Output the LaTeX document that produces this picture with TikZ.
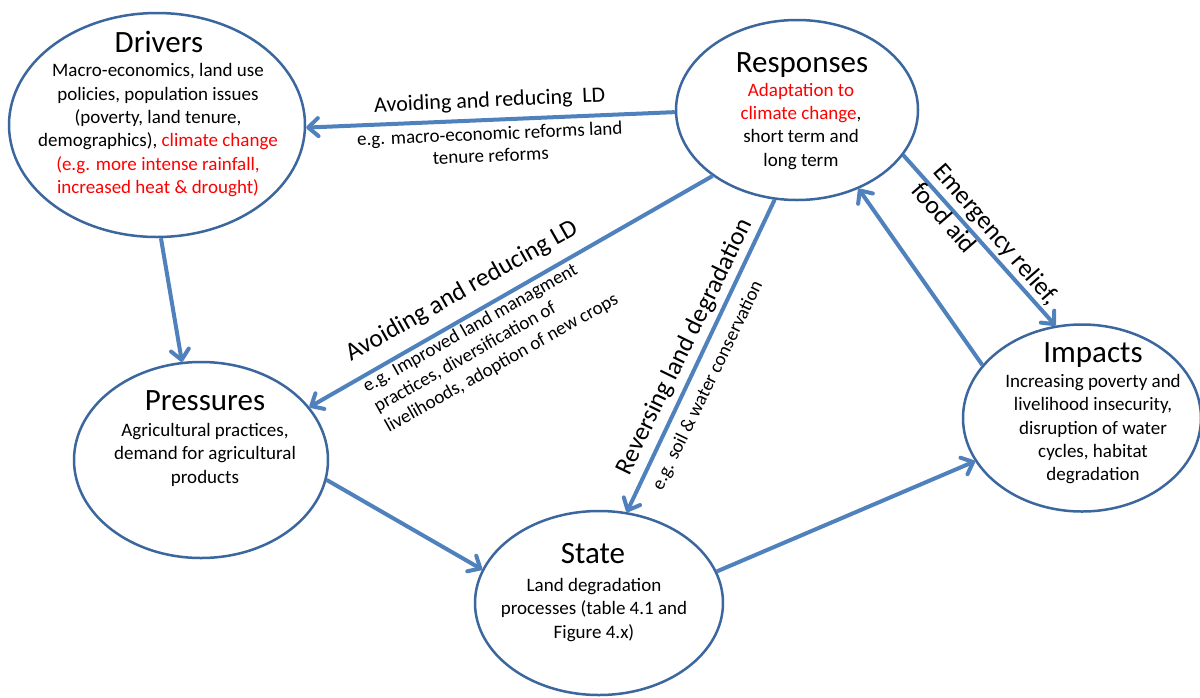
\documentclass[tikz,border=0pt]{standalone}
\usepackage{fontspec}
\setmainfont{Carlito}
\usetikzlibrary{arrows.meta,shapes.geometric}
\definecolor{rimblue}{HTML}{3B679E}
\definecolor{linkblue}{HTML}{4F81BD}
\begin{document}
\begin{tikzpicture}[x=1pt,y=-1pt,
  ell/.style={ellipse, draw=rimblue, line width=2.5pt, fill=white, inner sep=0pt},
  link/.style={draw=linkblue, line width=4pt, -{Straight Barb[length=10pt,width=18pt,round]}},
  ttl/.style={font=\fontsize{31}{36}\selectfont, anchor=base, inner sep=0pt},
  body/.style={font=\fontsize{19}{23.3}\selectfont, align=center, anchor=north, inner sep=0pt},
  lbl/.style={font=\fontsize{25.5}{29}\selectfont, inner sep=0pt},
  toplbl/.style={font=\fontsize{22}{26}\selectfont, inner sep=0pt},
  sub/.style={font=\fontsize{19}{22}\selectfont, inner sep=0pt},
]
\clip (0,0) rectangle (1200,697);
\fill[white] (0,0) rectangle (1200,697);

% the five stages
\node[ell, minimum width=296pt, minimum height=224pt] (drv)   at (157,125)  {};
\node[ell, minimum width=242pt, minimum height=180pt] (resp)  at (797,110)  {};
\node[ell, minimum width=254pt, minimum height=196pt] (press) at (201,460)  {};
\node[ell, minimum width=248pt, minimum height=184pt] (state) at (599,603)  {};
\node[ell, minimum width=238pt, minimum height=187pt] (imp)   at (1082,418) {};

% titles
\node[ttl] (drvT)   at (159,52)  {Drivers};
\node[ttl] (respT)  at (802,72)  {Responses};
\node[ttl] (pressT) at (205,410) {Pressures};
\node[ttl] (stateT) at (593,563) {State};
\node[ttl] (impT)   at (1093,362) {Impacts};

% descriptions
\node[body] (drvB) at (158,63.5) {Macro-economics, land use\\policies, population issues\\(poverty, land tenure,\\demographics), \textcolor{red}{climate change}\\\textcolor{red}{(e.g. more intense rainfall,}\\\textcolor{red}{increased heat \& drought)}};
\node[body] (respB) at (801,83) {\textcolor{red}{Adaptation to}\\\textcolor{red}{climate change},\\short term and\\long term};
\node[body] (pressB) at (205,423) {Agricultural practices,\\demand for agricultural\\products};
\node[body] (stateB) at (594,578) {Land degradation\\processes (table 4.1 and\\Figure 4.x)};
\node[body] (impB) at (1093,374) {Increasing poverty and\\livelihood insecurity,\\disruption of water\\cycles, habitat\\degradation};

% connectors
\draw[link] (resp.181)   -- (drv.-1);
\draw[link] (drv.-88.5)  -- (press.101);
\draw[link] (resp.218)   -- (press.26);
\draw[link] (resp.256)   -- (state.73.5);
\draw[link] (press.-9)   -- (state.164);
\draw[link] (state.15)   -- (imp.202.5);
\draw[link] (imp.152)    -- (resp.-52.6);
\draw[link] (resp.-23)   -- (imp.106);

% connector labels
\node[toplbl, anchor=base, rotate=2.5] (avoidA) at (490,107) {Avoiding and reducing\ \ LD};
\node[sub, anchor=base, rotate=2.5] (avoidA1) at (490,140) {e.g. macro-economic reforms land};
\node[sub, anchor=base, rotate=2.5] (avoidA2) at (491,162) {tenure reforms};

\node[lbl, anchor=base west, rotate=29.5] (avoidB) at (351,362) {Avoiding and reducing LD};
\node[sub, anchor=base west, rotate=29.5] (avoidB1) at (367,393) {e.g. Improved land managment};
\node[sub, anchor=base west, rotate=29.5] (avoidB2) at (378,413) {practices, diversification of};
\node[sub, anchor=base west, rotate=29.5] (avoidB3) at (389,433) {livelihoods, adoption of new crops};

\node[lbl, rotate=64] (rev) at (685,347) {Reversing land degradation};
\node[sub, rotate=64] (rev1) at (708,386) {e.g. soil \& water conservation};

\node[lbl, anchor=base west, rotate=-49] (emer1) at (932,172) {Emergency relief,};
\node[lbl, anchor=base west, rotate=-49] (emer2) at (910,191) {food aid};
\end{tikzpicture}
\end{document}
